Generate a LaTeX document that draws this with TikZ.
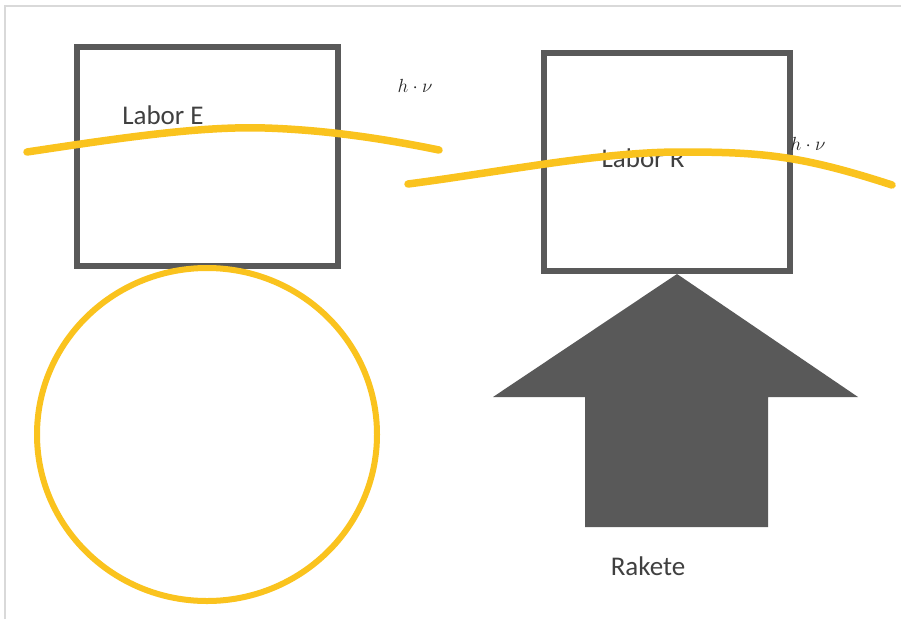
\documentclass[tikz,border=0pt]{standalone}
\usepackage{fontspec}
\newfontfamily\labelfont{Carlito}
\definecolor{boxgray}{HTML}{595959}
\definecolor{sunyellow}{HTML}{FAC31E}
\definecolor{framegray}{HTML}{D9D9D9}
\definecolor{textgray}{HTML}{404040}
\begin{document}
\begin{tikzpicture}[x=1pt,y=-1pt,
  labbox/.style={draw=boxgray,line width=6pt,fill=none},
  wave/.style={draw=sunyellow,line width=7.5pt,line cap=round},
  lbl/.style={font=\labelfont\fontsize{27}{30}\selectfont,text=textgray,inner sep=0pt},
  photon/.style={font=\LARGE,text=black!85,inner sep=0pt}]
\useasboundingbox (0,0) rectangle (901,619);
\fill[white] (0,0) rectangle (901,619);
% frame lines
\draw[framegray,line width=2pt] (5,619) -- (5,6) -- (901,6);
% boxes
\draw[labbox] (77,47) rectangle (338,266);
\draw[labbox] (544,53) rectangle (790,271);
% labels
\node[lbl] (labE) at (163,115) {Labor E};
\node[lbl] (labR) at (643,158) {Labor R};
\node[photon] (hv1) at (415,86) {\scalebox{1.1}{$h\cdot\nu$}};
\node[photon] (hv2) at (808,144) {\scalebox{1.1}{$h\cdot\nu$}};
\node[lbl] (rak) at (648,566) {Rakete};
% earth circle
\draw[sunyellow,line width=6pt] (207,434.5) ellipse [x radius=170, y radius=166.5];
% light waves
\draw[wave] (27,152) .. controls (120,138) and (200,126) .. (265,128) .. controls (330,130) and (390,140) .. (439,150);
\draw[wave] (408,184) .. controls (500,172) and (600,152) .. (680,152) .. controls (760,152) and (800,155) .. (892,185);
% rocket arrow
\fill[boxgray] (677,274) -- (858,397) -- (768,397) -- (768,527) -- (585,527) -- (585,397) -- (493,397) -- cycle;
\end{tikzpicture}
\end{document}
